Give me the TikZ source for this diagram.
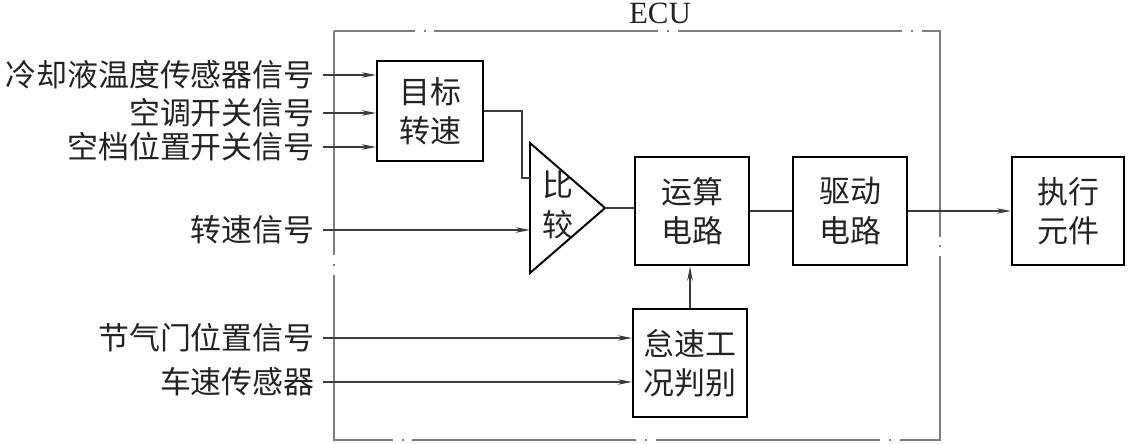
\documentclass[tikz,border=0pt]{standalone}
\usepackage{fontspec}
\setmainfont{Liberation Serif}
\newfontfamily\cjk{Noto Sans CJK SC}
\usepackage{tikz}
\usetikzlibrary{arrows.meta,positioning,shapes.geometric,calc}
\definecolor{ecugray}{RGB}{125,125,125}
\definecolor{linec}{RGB}{60,60,60}
\definecolor{txtc}{RGB}{35,35,35}

\begin{document}
\begin{tikzpicture}[x=0.025cm,y=-0.025cm,>={Stealth[length=3.6mm,width=1.4mm]},
    blk/.style={draw=black,line width=1.4pt,minimum width=2.85cm,minimum height=2.72cm,inner sep=0pt,align=center,font=\cjk\fontsize{22}{28}\selectfont,text=txtc},
    sig/.style={anchor=east,inner sep=0pt,font=\cjk\fontsize{22}{26}\selectfont,text=txtc},
    wire/.style={linec,line width=0.9pt}]
  \useasboundingbox (0,0) rectangle (1129,444);
  % ECU frame (dash-dot)
  \draw[ecugray,line width=1.2pt,dash pattern=on 5.6cm off 0.22cm on 0.05cm off 0.22cm] (334,31) rectangle (940,440);
  \node[font=\fontsize{22}{26}\selectfont,text=txtc,inner sep=0pt] (ecu) at (660,13) {ECU};
  % blocks
  \node[blk,minimum width=2.65cm,minimum height=2.5cm] (tgt) at (430,111) {目标\\转速};
  \node[isosceles triangle,isosceles triangle stretches,draw=black,line width=1.4pt,
        minimum width=3.25cm,minimum height=1.875cm,inner sep=0pt,outer sep=0pt,anchor=apex] (cmp) at (605,208) {};
  \node[inner sep=0pt,align=center,font=\cjk\fontsize{22}{28}\selectfont,text=txtc] (cmpt) at (558,205) {比\\较};
  \node[blk] (calc) at (692,211) {运算\\电路};
  \node[blk] (drv) at (850,211) {驱动\\电路};
  \node[blk,minimum width=2.8cm] (act) at (1068,211) {执行\\元件};
  \node[blk] (idle) at (690,363) {怠速工\\况判别};
  % input signals
  \node[sig] (l1) at (315,75) {冷却液温度传感器信号};
  \node[sig] (l2) at (315,113) {空调开关信号};
  \node[sig] (l3) at (315,147) {空档位置开关信号};
  \node[sig] (l4) at (315,230) {转速信号};
  \node[sig] (l5) at (315,338) {节气门位置信号};
  \node[sig] (l6) at (315,382) {车速传感器};
  \foreach \n in {l1,l2,l3}
    \draw[wire,->] ([xshift=2mm]\n.east) -- (\n.east -| tgt.west);
  \draw[wire,->] ([xshift=2mm]l4.east) -- (l4.east -| cmp.west);
  \foreach \n in {l5,l6}
    \draw[wire,->] ([xshift=2mm]\n.east) -- (\n.east -| idle.west);
  % internal links
  \coordinate (in1) at (530,178);
  \draw[wire] (tgt.east) -| ([xshift=-0.2cm]in1) -- (in1);
  \draw[wire] (cmp.apex) -- (cmp.apex -| calc.west);
  \draw[wire] (calc.east) -- (drv.west);
  \draw[wire,->] (drv.east) -- (act.west);
  \draw[wire,->] (idle.north) -- (idle.north |- calc.south);
\end{tikzpicture}
\end{document}
